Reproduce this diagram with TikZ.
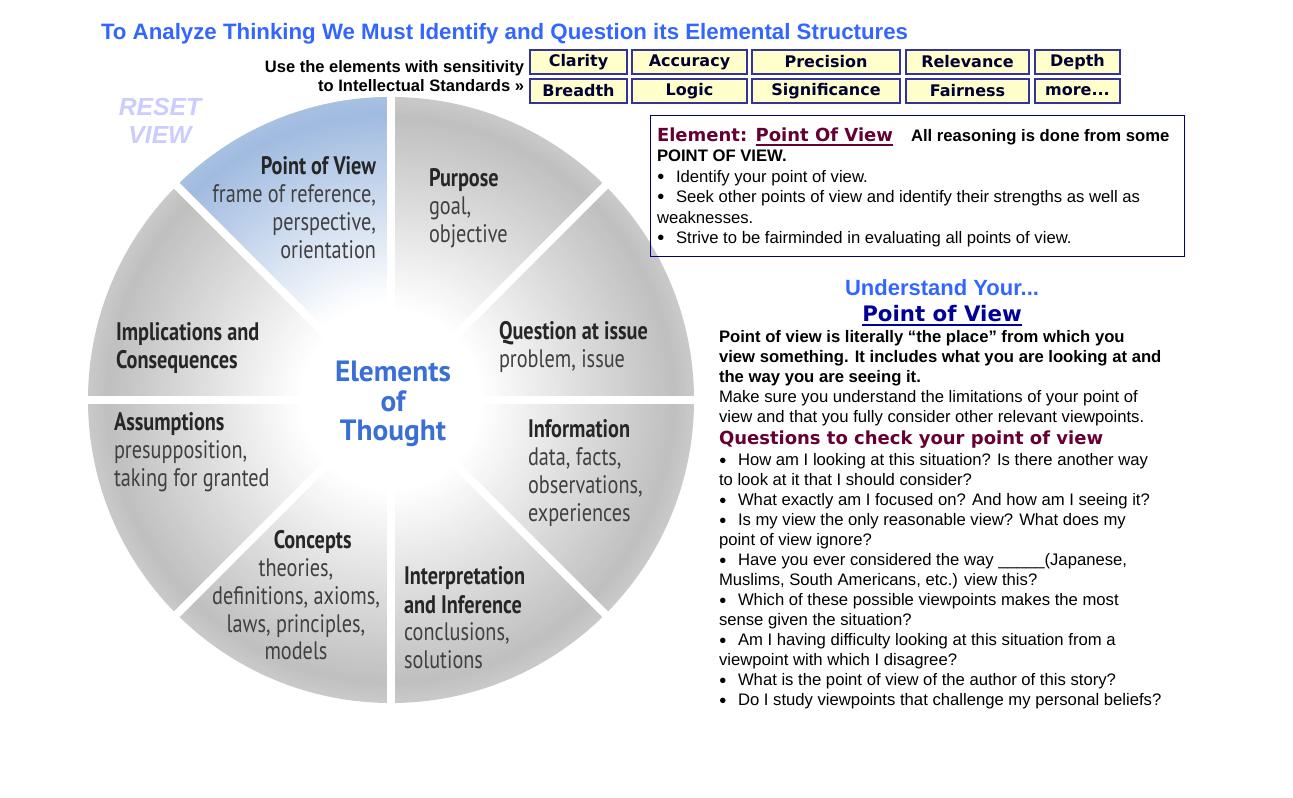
\documentclass[tikz,border=0pt]{standalone}
\usepackage{fontspec}
\setmainfont{Liberation Sans}
\newfontfamily\dvs{DejaVu Sans}
\newfontfamily\wheelfont[FakeStretch=0.8]{PT Sans}
\newfontfamily\ctrfont{PT Sans}
\definecolor{titleblue}{HTML}{3366FF}
\definecolor{resetc}{HTML}{CCCCFF}
\definecolor{btnfill}{HTML}{FFFFCC}
\definecolor{btnborder}{HTML}{333399}
\definecolor{btntext}{HTML}{000033}
\definecolor{boxborder}{HTML}{000080}
\definecolor{maroonc}{HTML}{660033}
\definecolor{navyc}{HTML}{000099}
\definecolor{wheelgray}{HTML}{C0C0C0}
\definecolor{wheelblue}{HTML}{A0BBE0}
\definecolor{wtitle}{HTML}{262626}
\definecolor{wdesc}{HTML}{404040}
\definecolor{ctrblue}{HTML}{3A6FD6}
\newcommand\tblock[2]{\begin{tabular}[t]{@{}#1@{}}#2\end{tabular}}
\newcommand\bul{\makebox[14.25pt][l]{\hspace{0.3pt}\raisebox{-0.9pt}{\fontsize{15}{15}\selectfont\textbullet}}}
\newcommand\wtt[1]{{\bfseries\color{wtitle}#1}}
\newcommand\uln[1]{\vtop{\hbox{#1}\kern1.2pt\hrule height 1.3pt}}
\begin{document}
\begin{tikzpicture}[x=0.75pt,y=-0.75pt,
  txt/.style={inner sep=0pt, outer sep=0pt},
  body/.style={txt, font=\fontsize{12.5}{15}\selectfont},
  bodyb/.style={txt, font=\bfseries\fontsize{12.5}{15}\selectfont},
  wt/.style={txt, font=\wheelfont\fontsize{19}{21}\selectfont, text=wdesc},
  btn/.style={draw=btnborder, line width=1.1pt, fill=btnfill, inner sep=0pt,
    minimum height=24*0.75pt, text=btntext, font=\dvs\bfseries\fontsize{12}{14}\selectfont},
  ]
\useasboundingbox (0,0) rectangle (1293,798);
\fill[white] (0,0) rectangle (1293,798);

% ---------- wheel ----------
\begin{scope}[shift={(391,400)}]
  \foreach \k in {0,...,79}{
    \pgfmathsetmacro\rr{1-\k*0.7/80}
    \pgfmathsetmacro\pp{min(100,max(0,(\rr-0.3)/0.63*100)) - max(0,\rr-0.94)/0.06*15}
    \fill[wheelgray!\pp!white] (0,0) circle[radius=303*\rr];
  }
  \begin{scope}
    \clip (0,0) -- (-135:420) -- (-112.5:460) -- (-90:420) -- cycle;
    \foreach \k in {0,...,79}{
      \pgfmathsetmacro\rr{1-\k*0.7/80}
      \pgfmathsetmacro\pp{min(100,max(0,(\rr-0.33)/0.62*100)) - max(0,\rr-0.95)/0.05*8}
      \fill[wheelblue!\pp!white] (0,0) circle[radius=303*\rr];
    }
  \end{scope}
  \fill[white] (0,0) circle[radius=303*0.3];
  \foreach \a in {0,45,...,315}
    \draw[white, line width=6pt] (0,0) -- (\a:330);
\end{scope}

% ---------- wheel texts ----------
\node[wt, anchor=base east] (pov) at (376,175)
  {\tblock{r}{\wtt{Point of View}\\frame of reference,\\perspective,\\orientation}};
\node[wt, anchor=base west] (purpose) at (429,187)
  {\tblock{l}{\wtt{Purpose}\\goal,\\objective}};
\node[wt, anchor=base west] (question) at (499,340)
  {\tblock{l}{\wtt{Question at issue}\\problem, issue}};
\node[wt, anchor=base west] (information) at (528,438)
  {\tblock{l}{\wtt{Information}\\data, facts,\\observations,\\experiences}};
\node[wt, anchor=base west] (interp) at (404,585)
  {\tblock{l}{\wtt{Interpretation}\\\wtt{and Inference}\\conclusions,\\solutions}};
\node[wt, anchor=base] (concepts) at (296,548)
  {\tblock{c}{\hspace*{25pt}\wtt{Concepts}\\theories,\\definitions, axioms,\\laws, principles,\\models}};
\node[wt, anchor=base west] (assump) at (114,431)
  {\tblock{l}{\wtt{Assumptions}\\presupposition,\\taking for granted}};
\node[wt, anchor=base west] (implic) at (116,341)
  {\tblock{l}{\wtt{Implications and}\\\wtt{Consequences}}};
\node[txt, anchor=base, text=ctrblue, font=\ctrfont\bfseries\fontsize{22}{21}\selectfont] (center) at (393,382)
  {\tblock{c}{Elements\\of\\Thought}};

% ---------- header ----------
\node[txt, anchor=base west, text=titleblue, font=\bfseries\fontsize{16.7}{18}\selectfont] (title) at (101,40)
  {To Analyze Thinking We Must Identify and Question its Elemental Structures};
\node[txt, anchor=base east, font=\bfseries\fontsize{12.4}{14.25}\selectfont] (usestd) at (524,73)
  {\tblock{r}{Use the elements with sensitivity\\to Intellectual Standards »}};
\node[txt, anchor=base, text=resetc, font=\bfseries\itshape\fontsize{18.5}{21}\selectfont] (reset) at (160,116)
  {\tblock{c}{RESET\\VIEW}};

% ---------- standards buttons ----------
\node[btn, minimum width=97*0.75pt]  (clarity)   at (578.5,62) {Clarity};
\node[btn, minimum width=115*0.75pt] (accuracy)  at (689.5,62) {Accuracy};
\node[btn, minimum width=148*0.75pt] (precision) at (826,62)   {Precision};
\node[btn, minimum width=123*0.75pt] (relevance) at (967.5,62) {Relevance};
\node[btn, minimum width=85*0.75pt]  (depth)     at (1077.5,62){Depth};
\node[btn, minimum width=97*0.75pt]  (breadth)   at (578.5,91) {Breadth};
\node[btn, minimum width=115*0.75pt] (logic)     at (689.5,91) {Logic};
\node[btn, minimum width=148*0.75pt] (signif)    at (826,91)   {Significance};
\node[btn, minimum width=123*0.75pt] (fairness)  at (967.5,91) {Fairness};
\node[btn, minimum width=85*0.75pt]  (more)      at (1077.5,91){more...};

% ---------- element box ----------
\node[draw=boxborder, line width=0.9pt, anchor=north west, inner sep=0pt,
  minimum width=534*0.75pt, minimum height=141*0.75pt] (elembox) at (650,115) {};
\node[txt, anchor=base west, text=maroonc, font=\dvs\bfseries\fontsize{13.5}{15}\selectfont] (elemhead) at (657,142)
  {Element: \uln{Point Of View}};
\node[bodyb, anchor=base west] (elemall) at (911,142) {All reasoning is done from some};
\node[body, anchor=base west] (elemlist) at (657,162)
  {\tblock{l}{\textbf{POINT OF VIEW.}\\[0.3pt]
   \bul Identify your point of view.\\[0.3pt]
   \bul Seek other points of view and identify their strengths as well as\\[0.3pt]
   weaknesses.\\[0.3pt]
   \bul Strive to be fairminded in evaluating all points of view.}};

% ---------- right panel ----------
\node[txt, anchor=base, text=titleblue, font=\bfseries\fontsize{16.5}{18}\selectfont] (understand) at (942,296)
  {Understand Your...};
\node[txt, anchor=base, text=navyc, font=\dvs\bfseries\fontsize{16}{18}\selectfont] (povhead) at (942,322)
  {\uln{Point of View}};
\node[bodyb, anchor=base west] (povdef) at (719,343)
  {\tblock{l}{Point of view is literally “the place” from which you\\
   view something. It includes what you are looking at and\\
   the way you are seeing it.}};
\node[body, anchor=base west] (povmake) at (719,403)
  {\tblock{l}{Make sure you understand the limitations of your point of\\
   view and that you fully consider other relevant viewpoints.}};
\node[txt, anchor=base west, text=maroonc, font=\dvs\bfseries\fontsize{13.5}{15}\selectfont] (qhead) at (719,445)
  {Questions to check your point of view};
\node[body, anchor=base west] (qlist) at (719,466)
  {\tblock{l}{\bul How am I looking at this situation? Is there another way\\
   to look at it that I should consider?\\
   \bul What exactly am I focused on? And how am I seeing it?\\
   \bul Is my view the only reasonable view? What does my\\
   point of view ignore?\\
   \bul Have you ever considered the way \_\_\_\_\_(Japanese,\\
   Muslims, South Americans, etc.) view this?\\
   \bul Which of these possible viewpoints makes the most\\
   sense given the situation?\\
   \bul Am I having difficulty looking at this situation from a\\
   viewpoint with which I disagree?\\
   \bul What is the point of view of the author of this story?\\
   \bul Do I study viewpoints that challenge my personal beliefs?}};
\end{tikzpicture}
\end{document}
